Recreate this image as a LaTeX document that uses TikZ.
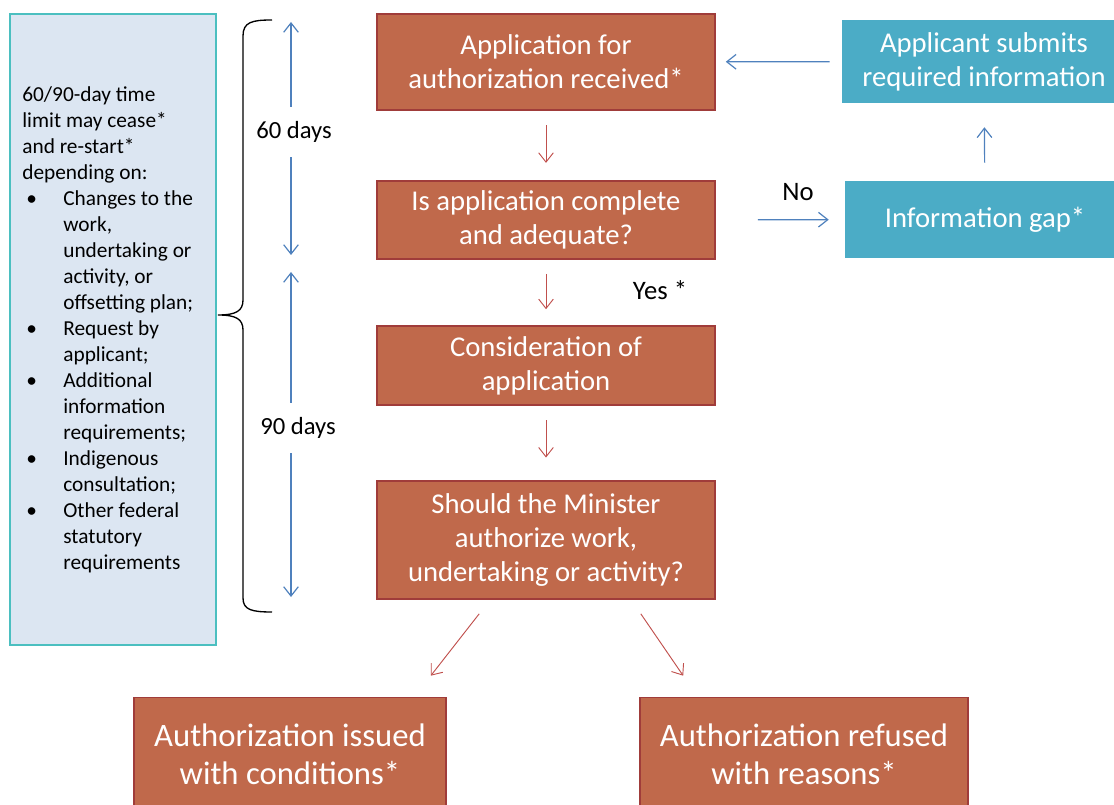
\documentclass[tikz,border=0pt]{standalone}
\usepackage{fontspec}
\setmainfont{Carlito}
\usepackage{xcolor}
\usepackage{tikz}
\definecolor{rustfill}{HTML}{C0694B}
\definecolor{rustline}{HTML}{A03C3A}
\definecolor{tealfill}{HTML}{4BACC6}
\definecolor{panelfill}{HTML}{DCE6F2}
\definecolor{panelline}{HTML}{4BBFC0}
\definecolor{redarrow}{HTML}{C0504D}
\definecolor{bluearrow}{HTML}{4F81BD}
\newcommand{\bul}{\makebox[30.75pt][l]{\hspace{3pt}\textbullet}}
\newcommand{\ind}{\hspace*{30.75pt}}
\tikzset{
  stage/.style={fill=rustfill, draw=rustline, line width=1.2pt, text=white, align=flush center,
    font=\fontsize{21.5}{25.5}\selectfont, inner sep=0pt, minimum width=253.5pt},
  outcome/.style={stage, font=\fontsize{24.5}{28.5}\selectfont, minimum height=85.5pt},
  gapbox/.style={fill=tealfill, text=white, align=flush center, font=\fontsize{21.5}{25.5}\selectfont, inner sep=0pt},
  panel/.style={fill=panelfill, draw=panelline, line width=1.5pt, align=flush left,
    font=\fontsize{16}{19.5}\selectfont, inner xsep=9pt, inner ysep=0pt, text width=136pt},
  flowarrow/.style={draw=redarrow, line width=0.7pt, -{Straight Barb[length=7pt,width=11pt]}},
  infoarrow/.style={draw=bluearrow, line width=0.9pt, -{Straight Barb[length=7pt,width=11pt]}},
  lbl/.style={font=\fontsize{20}{24}\selectfont, inner sep=1pt},
  days/.style={font=\fontsize{18.5}{22}\selectfont, inner xsep=1pt, inner ysep=11pt},
}
\usetikzlibrary{arrows.meta}

\begin{document}
\begin{tikzpicture}[x=0.75pt, y=-0.75pt]

  \useasboundingbox (0,0) rectangle (1114,805);
  \clip (0,0) rectangle (1114,805);

  % left panel and brace
  \node[panel, minimum width=154.5pt, minimum height=473.25pt] (ceases) at (113,329.5) {%
    60/90-day time\\
    limit may cease*\\
    and re-start*\\
    depending on:\\
    \bul Changes to the\\
    \ind work,\\
    \ind undertaking or\\
    \ind activity, or\\
    \ind offsetting plan;\\
    \bul Request by\\
    \ind applicant;\\
    \bul Additional\\
    \ind information\\
    \ind requirements;\\
    \bul Indigenous\\
    \ind consultation;\\
    \bul Other federal\\
    \ind statutory\\
    \ind requirements};
  \draw[line width=1pt] (272,20) .. controls (252,20) and (243,22) .. (243,36) -- (243,300)
      .. controls (243,311) and (236,315) .. (218,315)
      .. controls (236,315) and (243,319) .. (243,330) -- (243,598)
      .. controls (243,610) and (252,612) .. (272,612);

  % time spans
  \coordinate (t60) at (291,22);
  \coordinate (b60) at (291,255);
  \coordinate (t90) at (291,272);
  \coordinate (b90) at (291,597);
  \node[days] (d60) at (294,132) {60 days};
  \node[days] (d90) at (298,428) {90 days};
  \draw[infoarrow] (t60 |- d60.north) -- (t60);
  \draw[infoarrow] (t60 |- d60.south) -- (b60);
  \draw[infoarrow] (t90 |- d90.north) -- (t90);
  \draw[infoarrow] (t90 |- d90.south) -- (b90);

  % main steps
  \node[stage, minimum height=72pt] (received) at (546,62) {Application for\\authorization received*};
  \node[stage, minimum height=58.5pt] (complete) at (546,220) {Is application complete\\and adequate?};
  \node[stage, minimum height=59.25pt] (consider) at (546,365.5) {Consideration of\\application};
  \node[stage, minimum height=88.5pt] (minister) at (546,540) {Should the Minister\\authorize work,\\undertaking or activity?};
  \node[outcome, minimum width=234pt] (issued) at (290,754.5) {Authorization issued\\with conditions*};
  \node[outcome, minimum width=246pt] (refused) at (804,754.5) {Authorization refused\\with reasons*};

  % information loop
  \node[gapbox, minimum width=213pt, minimum height=62.25pt] (submits) at (984,61.5) {Applicant submits\\required information};
  \node[gapbox, minimum width=210pt, minimum height=57.75pt] (gap) at (985,219.5) {Information gap*};
  \node[lbl] (no) at (798,192) {No};
  \node[lbl] (yes) at (660,290) {Yes *};

  \draw[flowarrow, shorten <=11pt, shorten >=13pt] (received) -- (complete);
  \draw[flowarrow, shorten <=10.5pt, shorten >=12pt] (complete) -- (consider);
  \draw[flowarrow, shorten <=11pt, shorten >=17pt] (consider) -- (minister);
  \draw[flowarrow] ([xshift=77.25pt, yshift=-10.5pt]minister.south west) -- ([xshift=-12pt, yshift=15.75pt]issued.north east);
  \draw[flowarrow] ([xshift=-56.25pt, yshift=-10.5pt]minister.south east) -- ([xshift=33pt, yshift=15.75pt]refused.north west);

  \draw[infoarrow, shorten <=9pt, shorten >=7.5pt] (submits) -- (received);
  \draw[infoarrow, shorten <=31.5pt, shorten >=12pt] (complete) -- (gap);
  \draw[infoarrow, shorten <=13.5pt, shorten >=18pt] (gap) -- (submits);

\end{tikzpicture}
\end{document}
